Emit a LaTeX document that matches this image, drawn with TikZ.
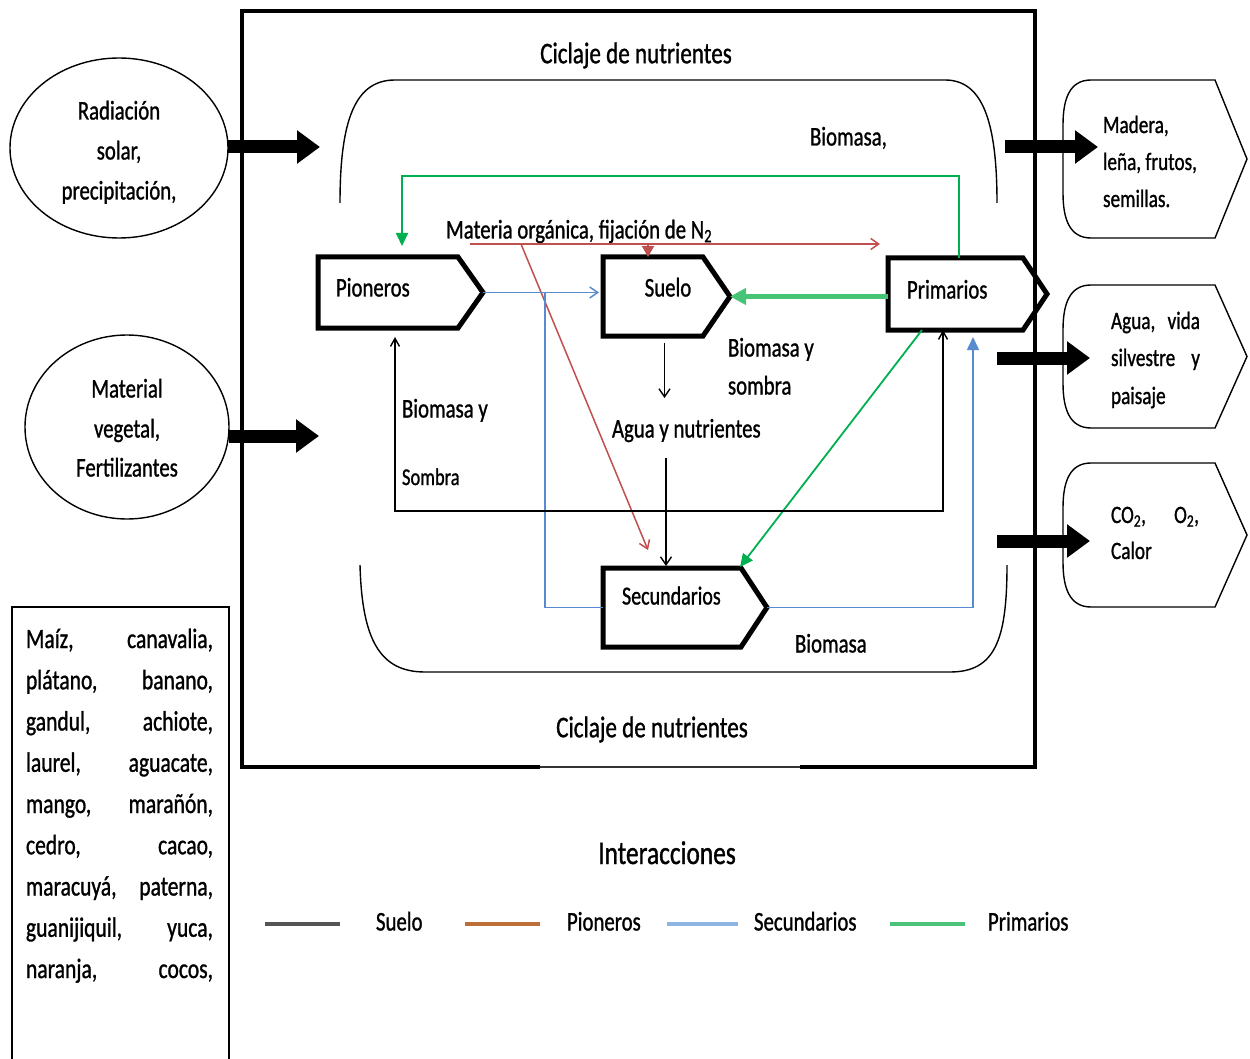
\documentclass[tikz,border=0pt]{standalone}
\usepackage{fontspec}
\setmainfont{Carlito}[FakeStretch=0.77,FakeBold=1]
\usetikzlibrary{arrows.meta,calc,shapes.geometric}
\definecolor{cgrn}{RGB}{0,176,80}
\definecolor{cgrnl}{RGB}{72,196,118}
\definecolor{cred}{RGB}{192,80,77}
\definecolor{cblu}{RGB}{88,138,208}
\definecolor{lgray}{RGB}{85,85,85}
\definecolor{lbrown}{RGB}{190,110,55}
\definecolor{lblue}{RGB}{141,180,226}
\definecolor{lgreen}{RGB}{76,193,122}
\newcommand\hexdraw[2]{\draw[hexline] (#1.north west) -- ($(#1.north east)+(-#2,0)$) -- (#1.east) -- ($(#1.south east)+(-#2,0)$) -- (#1.south west) -- cycle;}
\newcommand\outdraw[1]{\draw[thinline] ($(#1.north west)+(28,0)$) -- ($(#1.north east)+(-32,0)$) -- (#1.east) -- ($(#1.south east)+(-32,0)$) -- ($(#1.south west)+(28,0)$) .. controls ($(#1.south west)+(6,0)$) and ($(#1.south west)+(0,-20)$) .. ($(#1.south west)+(0,-45)$) -- ($(#1.north west)+(0,45)$) .. controls ($(#1.north west)+(0,20)$) and ($(#1.north west)+(6,0)$) .. ($(#1.north west)+(28,0)$) -- cycle;}
\begin{document}
\begin{tikzpicture}[x=1pt,y=-1pt,
  every node/.style={inner sep=0pt,outer sep=0pt},
  t24/.style={font=\fontsize{24}{29}\selectfont,text height=17pt,text depth=5pt},
  t25/.style={font=\fontsize{25}{30}\selectfont,text height=17.5pt,text depth=5.5pt},
  t26/.style={font=\fontsize{26}{31}\selectfont,text height=18.5pt,text depth=5.5pt},
  t27/.style={font=\fontsize{27}{32}\selectfont,text height=19pt,text depth=6pt},
  t28/.style={font=\fontsize{28}{34}\selectfont},
  t30/.style={font=\fontsize{30}{36}\selectfont,text height=21pt,text depth=6.5pt},
  t33/.style={font=\fontsize{33}{40}\selectfont,text height=23pt,text depth=7pt},
  bb/.style={draw=none,minimum width=#1},
  hexline/.style={line width=5pt,line join=miter},
  thinline/.style={line width=1.4pt},
  frameline/.style={line width=4pt},
  fat/.style={line width=13pt,-{Triangle[length=23pt,width=32pt]}},
  blk/.style={line width=1.4pt,black},
  redl/.style={line width=1.5pt,cred},
  blul/.style={line width=1.5pt,cblu},
  grnl/.style={line width=1.8pt,cgrn},
  barb/.style={-{Straight Barb[length=8pt,width=11pt]}},
  tri/.style={-{Triangle[length=13pt,width=12pt]}},
  leg/.style={line width=3.5pt}
]
\useasboundingbox (0,0) rectangle (1250,1059);

% inner nutrient-cycle brackets
\draw[thinline] (340,203) .. controls (340,120) and (355,80) .. (395,80) -- (945,80) .. controls (982,80) and (997,120) .. (997,203);
\draw[thinline] (360,565) .. controls (362,640) and (380,672) .. (425,672) -- (950,672) .. controls (995,672) and (1007,640) .. (1007,565);

% main frame
\draw[frameline,line join=miter] (540,767) -- (242,767) -- (242,11) -- (1035,11) -- (1035,767) -- (800,767);
\draw[line width=2pt,black!80] (540,767) -- (800,767);

% central boxes
\node[bb=165pt,minimum height=71pt] (pio) at (400.5,292.5) {};
\node[bb=127pt,minimum height=79pt] (sue) at (666.5,296.5) {};
\node[bb=159pt,minimum height=72pt] (pri) at (967.5,294) {};
\node[bb=164pt,minimum height=79pt] (sec) at (685,607.5) {};
\hexdraw{pio}{25}
\hexdraw{sue}{27}
\hexdraw{pri}{24}
\hexdraw{sec}{26}
\node[t27,anchor=west] (pioT) at (336,290) {Pioneros};
\node[t27] (sueT) at (668,290) {Suelo};
\node[t27,anchor=west] (priT) at (907,292) {Primarios};
\node[t26,anchor=west] (secT) at (622,598) {Secundarios};

% left inputs
\node[draw,ellipse,line width=1.4pt,minimum width=218pt,minimum height=180pt] (rad) at (119,148) {};
\node[t27] (rad1) at (119,113) {Radiación};
\node[t27] (rad2) at (119,153) {solar,};
\node[t27] (rad3) at (119,193) {precipitación,};
\node[draw,ellipse,line width=1.4pt,minimum width=204pt,minimum height=184pt] (mve) at (127,427) {};
\node[t27] (mve1) at (127,391) {Material};
\node[t27] (mve2) at (127,431) {vegetal,};
\node[t27] (mve3) at (127,470) {Fertilizantes};
\coordinate (in1) at (320,147);
\coordinate (in2) at (319,436);
\draw[fat] (rad.east |- in1) -- (in1);
\draw[fat] (mve.east |- in2) -- (in2);

% right outputs
\node[bb=184pt,minimum height=158pt,anchor=north west] (out1) at (1063,80) {};
\node[bb=184pt,minimum height=143pt,anchor=north west] (out2) at (1063,285) {};
\node[bb=184pt,minimum height=144pt,anchor=north west] (out3) at (1063,463) {};
\outdraw{out1}
\outdraw{out2}
\outdraw{out3}
\node[t25,anchor=west] (o1a) at (1103,127) {Madera,};
\node[t25,anchor=west] (o1b) at (1103,164) {leña, frutos,};
\node[t25,anchor=west] (o1c) at (1103,201) {semillas.};
\node[t25,anchor=west] (o2a) at (1111,323) {\hbox to 89pt{Agua,\hfill vida}};
\node[t25,anchor=west] (o2b) at (1111,360) {\hbox to 89pt{silvestre\hfill y}};
\node[t25,anchor=west] (o2c) at (1111,398) {paisaje};
\node[t25,anchor=west] (o3a) at (1111,517) {\hbox to 88pt{CO\textsubscript{2},\hfill O\textsubscript{2},}};
\node[t25,anchor=west] (o3b) at (1111,553) {Calor};
\coordinate (os1) at (1005,147);
\coordinate (os2) at (997,358);
\coordinate (os3) at (997,541);
\draw[fat] (os1) -- ($(out1.west |- os1)+(35,0)$);
\draw[fat] (os2) -- ($(out2.west |- os2)+(27,0)$);
\draw[fat] (os3) -- ($(out3.west |- os3)+(27,0)$);

% labels inside
\node[t30] (cic1) at (636,56) {Ciclaje de nutrientes};
\node[t30] (cic2) at (652,730) {Ciclaje de nutrientes};
\node[t27,anchor=west] (bio1) at (810,139) {Biomasa,};
\node[t27,anchor=west] (mat) at (446,232) {Materia orgánica, fijación de N\textsubscript{2}};
\node[t27,anchor=west] (bys1) at (728,350) {Biomasa y};
\node[t27,anchor=west] (som1) at (728,388) {sombra};
\node[t27,anchor=west] (bys2) at (402,411) {Biomasa y};
\node[t24,anchor=west] (som2) at (402,479) {Sombra};
\node[t27,anchor=west] (agua) at (612,431) {Agua y nutrientes};
\node[t27,anchor=west] (bio2) at (795,646) {Biomasa};

% green connectors
\coordinate (g1) at (959,176);
\coordinate (g2) at (402,176);
\draw[grnl,tri,shorten >=11pt] (pri.north -| g1) |- (g2) -- (pio.north -| g2);
\draw[line width=4.5pt,cgrnl,-{Triangle[length=16pt,width=16pt]}] (pri.west |- sue.east) -- (sue.east);
\draw[grnl,tri] ($(pri.south west)+(34,0)$) -- ($(sec.north east)+(-27,-1)$);

% red connectors
\coordinate (r1) at (470,244);
\coordinate (r2) at (880,244);
\coordinate (r3) at (521,244);
\draw[redl,barb] (r1) -- (r2);
\draw[redl,-{Triangle[length=11pt,width=12pt]}] ($(sue.north west)+(45,-13)$) -- ($(sue.north west)+(45,0)$);
\draw[redl,barb] (r3) -- ($(sec.north west)+(45,-18)$);

% blue connectors
\coordinate (b1) at (545,292.5);
\draw[blul,barb,shorten >=4pt] (pio.east) -- (sue.west |- pio.east);
\draw[blul] (sec.west) -| (b1);
\draw[blul,tri] (sec.east) -| ($(pri.south west)+(85,7)$);

% black connectors
\draw[blk,barb] ($(sue.south)+(-2,7)$) -- ($(sue.south)+(-2,62)$);
\draw[blk,barb] ($(sec.north west)+(63,-110)$) -- ($(sec.north west)+(63,-2)$);
\coordinate (k2) at (943,511);
\draw[blk,{Straight Barb[length=8pt,width=9pt]}-{Straight Barb[length=8pt,width=9pt]}] ($(pio.south west)+(77,9)$) |- (k2) -- (pri.south -| k2);

% species list
\node[draw,line width=2pt,minimum width=217pt,minimum height=470pt,anchor=north west] (lstbox) at (12,607) {};
\foreach \a/\b [count=\i] in {{Maíz,}/{canavalia,}, {plátano,}/{banano,}, {gandul,}/{achiote,}, {laurel,}/{aguacate,}, {mango,}/{marañón,}, {cedro,}/{cacao,}, {maracuyá,}/{paterna,}, {guanijiquil,}/{yuca,}, {naranja,}/{cocos,}}{
  \node[t28,anchor=base west] (row\i) at (26,{648+41.25*(\i-1)}) {\hbox to 187pt{\a\hfill\b}};
}

% legend
\node[t33] (inter) at (667,856) {Interacciones};
\coordinate (l1a) at (265,924); \coordinate (l1b) at (340,924);
\coordinate (l2a) at (465,924); \coordinate (l2b) at (540,924);
\coordinate (l3a) at (667,924); \coordinate (l3b) at (738,924);
\coordinate (l4a) at (890,924); \coordinate (l4b) at (965,924);
\draw[leg,lgray] (l1a) -- (l1b);
\draw[leg,lbrown] (l2a) -- (l2b);
\draw[leg,lblue] (l3a) -- (l3b);
\draw[leg,lgreen] (l4a) -- (l4b);
\node[t27,anchor=west] (lg1) at (376,924) {Suelo};
\node[t27,anchor=west] (lg2) at (567,924) {Pioneros};
\node[t27,anchor=west] (lg3) at (754,924) {Secundarios};
\node[t27,anchor=west] (lg4) at (988,924) {Primarios};
\end{tikzpicture}
\end{document}
